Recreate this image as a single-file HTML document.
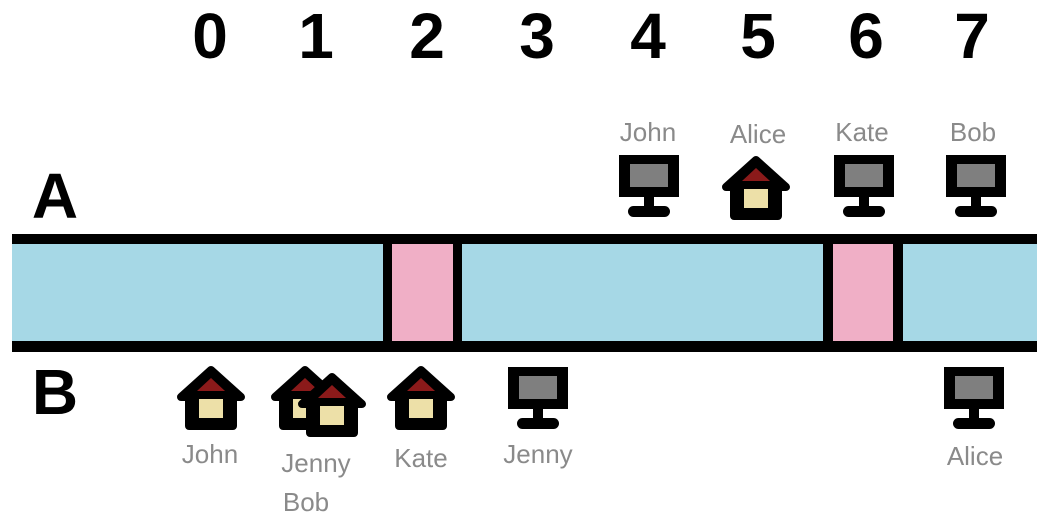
<!DOCTYPE html>
<html><head><meta charset="utf-8"><style>
html,body{margin:0;padding:0;background:#fff;}
svg{display:block;}
.n{font-family:"Liberation Sans",sans-serif;font-weight:bold;font-size:64px;fill:#000;text-anchor:middle;}
.l{font-family:"Liberation Sans",sans-serif;font-size:26px;fill:#8a8a8a;text-anchor:middle;}
</style></head><body>
<svg width="1046" height="522" viewBox="0 0 1046 522" xmlns="http://www.w3.org/2000/svg">
<defs>
<g id="house">
<polygon points="0,4 30,31 22,31 22,60 -22,60 -22,31 -30,31" fill="#000" stroke="#000" stroke-width="8" stroke-linejoin="round"/>
<polygon points="0,12 14,25 -14,25" fill="#8b1a1a"/>
<rect x="-12" y="33" width="24" height="19" fill="#ede0a8"/>
</g>
<g id="comp">
<rect x="-30" y="0" width="60" height="42" fill="#000"/>
<rect x="-19" y="9" width="38" height="23" fill="#7f7f7f"/>
<rect x="-5" y="40" width="10" height="14" fill="#000"/>
<rect x="-21" y="51" width="42" height="11" rx="5.5" fill="#000"/>
</g>
</defs>
<text class="n" x="210" y="58">0</text>
<text class="n" x="316" y="58">1</text>
<text class="n" x="427" y="58">2</text>
<text class="n" x="537" y="58">3</text>
<text class="n" x="648" y="58">4</text>
<text class="n" x="758" y="58">5</text>
<text class="n" x="866" y="58">6</text>
<text class="n" x="972" y="58">7</text>
<text class="n" x="55" y="218">A</text>
<text class="n" x="55" y="414">B</text>
<rect x="12" y="234" width="1025" height="118" fill="#000"/>
<rect x="12" y="244" width="1025" height="97" fill="#a6d8e6"/>
<rect x="383" y="244" width="79" height="97" fill="#000"/>
<rect x="392" y="244" width="61" height="97" fill="#f0afc6"/>
<rect x="823" y="244" width="80" height="97" fill="#000"/>
<rect x="833" y="244" width="60" height="97" fill="#f0afc6"/>
<text class="l" x="648" y="141">John</text>
<text class="l" x="758" y="143">Alice</text>
<text class="l" x="862" y="141">Kate</text>
<text class="l" x="973" y="141">Bob</text>
<use href="#comp" x="649" y="155"/>
<use href="#house" x="756" y="156"/>
<use href="#comp" x="864" y="155"/>
<use href="#comp" x="976" y="155"/>
<use href="#house" x="211" y="366"/>
<use href="#house" x="305" y="366"/>
<use href="#house" x="332" y="373"/>
<use href="#house" x="421" y="366"/>
<use href="#comp" x="538" y="367"/>
<use href="#comp" x="974" y="367"/>
<text class="l" x="210" y="463">John</text>
<text class="l" x="316" y="472">Jenny</text>
<text class="l" x="306" y="511">Bob</text>
<text class="l" x="421" y="467">Kate</text>
<text class="l" x="538" y="463">Jenny</text>
<text class="l" x="975" y="465">Alice</text>
</svg>
</body></html>
